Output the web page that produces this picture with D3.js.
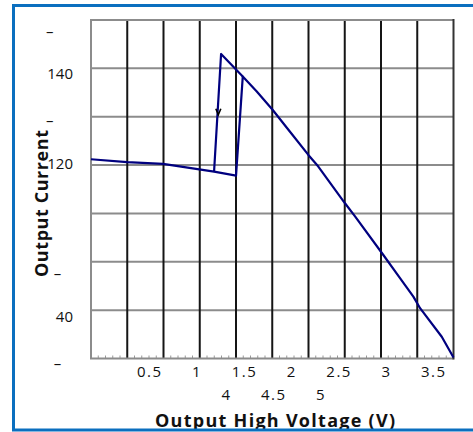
<!DOCTYPE html>
<meta charset="utf-8">
<script src="https://cdn.jsdelivr.net/npm/d3@7"></script>
<style>
body { margin: 0; background: #fff; }
text { font-family: "Open Sans", sans-serif; fill: #111; }
.tick-label { font-size: 15px; }
.axis-title { font-size: 18px; font-weight: bold; }
.grid-h { stroke: #8c8c8c; stroke-width: 2px; }
.grid-v { stroke: #151515; stroke-width: 2px; }
.sweep { fill: none; stroke: #00007f; stroke-width: 2.2px; stroke-linejoin: round; }
</style>
<body>
<script>

// sweep from low to high output voltage
var upVoltage = [-0.113, 0.268, 0.648, 1.187, 1.419, 1.490, 1.638, 1.807, 1.989, 2.183, 2.288, 2.570, 2.676, 2.975, 3.151, 3.292, 3.363, 3.592, 3.716];
var upCurrent = [121.2, 120.6, 120.25, 118.66, 117.83, 138.3, 135.2, 131.4, 126.9, 122.1, 119.7, 112.1, 109.4, 101.4, 96.6, 92.8, 90.4, 84.5, 80.2];

// sweep back down (hysteresis part)
var downVoltage = [1.490, 1.261, 1.187];
var downCurrent = [138.3, 142.98, 118.66];

// arrow on the falling edge
var arrowVoltage = 1.232;
var arrowCurrent = 130.4;

var xTicks = [0.5, 1, 1.5, 2, 2.5, 3, 3.5];
var xTicks2 = [4, 4.5, 5];
var yLabels = ["–\u00a0\u00a0\u00a0\u00a0\u00a0", "140", "–\u00a0\u00a0\u00a0\u00a0\u00a0", "120", "–\u00a0\u00a0\u00a0", "40", "–\u00a0\u00a0\u00a0"];
var yLabelValues = [147.5, 138.93, 129.1, 120.25, 97.5, 88.7, 79.0];

var width = 473, height = 432;
var pLeft = 91, pRight = 453.5, pTop = 20, pBottom = 358.5;

var svg = d3.select("body").append("svg")
    .attr("width", width)
    .attr("height", height);

var x = d3.scaleLinear().domain([-0.113, 3.716]).range([pLeft, pRight]);
var x2 = x.copy().domain(x.domain().map(function(d) { return d + 2.69; }));
var y = d3.scaleLinear().domain([80, 150]).range([pBottom, pTop]);

// grid: 10 columns, 7 rows
var gx = d3.scaleLinear().domain([0, 10]).range([pLeft, pRight]);
var gy = d3.scaleLinear().domain([0, 7]).range([pTop, pBottom]);

svg.append("g").selectAll("line")
    .data(d3.range(1, 7))
    .enter().append("line")
    .attr("class", "grid-h")
    .attr("x1", pLeft).attr("x2", pRight)
    .attr("y1", function(d) { return gy(d); })
    .attr("y2", function(d) { return gy(d); });

svg.append("g").selectAll("line")
    .data(d3.range(1, 10))
    .enter().append("line")
    .attr("class", "grid-v")
    .attr("x1", function(d) { return gx(d); })
    .attr("x2", function(d) { return gx(d); })
    .attr("y1", pTop).attr("y2", pBottom);

// minor ticks on the bottom edge
svg.append("g").selectAll("line")
    .data(d3.range(0, 10, 0.2).filter(function(d) { return Math.abs(d - Math.round(d)) > 0.01; }))
    .enter().append("line")
    .attr("x1", function(d) { return gx(d); })
    .attr("x2", function(d) { return gx(d); })
    .attr("y1", pBottom).attr("y2", pBottom - 3)
    .attr("stroke", "#999").attr("stroke-width", 1);

// frame of plot area
var fr = svg.append("g").attr("fill", "none").attr("stroke-width", 2);
fr.append("path").attr("stroke", "#8c8c8c")
    .attr("d", "M" + pRight + "," + pTop + "H" + pLeft + "V" + pBottom + "H" + pRight);
fr.append("line").attr("stroke", "#333")
    .attr("x1", pRight).attr("x2", pRight).attr("y1", pTop - 1).attr("y2", pBottom + 1);

var line = d3.line()
    .x(function(d) { return x(d[0]); })
    .y(function(d) { return y(d[1]); });

svg.append("path")
    .datum(d3.zip(upVoltage, upCurrent))
    .attr("class", "sweep")
    .attr("d", line);

svg.append("path")
    .datum(d3.zip(downVoltage, downCurrent))
    .attr("class", "sweep")
    .attr("d", line);

var ax = x(arrowVoltage), ay = y(arrowCurrent);
svg.append("path")
    .attr("d", "M" + (ax - 2.5) + "," + (ay - 6) + "L" + ax + "," + ay + "L" + (ax + 2.5) + "," + (ay - 6))
    .attr("fill", "none")
    .attr("stroke", "#000")
    .attr("stroke-width", 1.6);

// y labels
svg.append("g").selectAll("text")
    .data(yLabels)
    .enter().append("text")
    .attr("class", "tick-label")
    .attr("text-anchor", "end")
    .attr("x", 73)
    .attr("y", function(d, i) { return y(yLabelValues[i]); })
    .attr("dy", "0.35em")
    .text(function(d) { return d; });

// x labels, two rows
svg.append("g").selectAll("text")
    .data(xTicks)
    .enter().append("text")
    .attr("class", "tick-label")
    .attr("text-anchor", "middle")
    .attr("letter-spacing", "1.5px")
    .attr("x", function(d) { return x(d) + 0.75; })
    .attr("y", 376.5)
    .text(function(d) { return d; });

svg.append("g").selectAll("text")
    .data(xTicks2)
    .enter().append("text")
    .attr("class", "tick-label")
    .attr("text-anchor", "middle")
    .attr("letter-spacing", "1.5px")
    .attr("x", function(d) { return x2(d) + 0.75; })
    .attr("y", 400)
    .text(function(d) { return d; });

svg.append("text")
    .attr("class", "axis-title")
    .attr("x", 155)
    .attr("y", 426.5)
    .attr("textLength", 240)
    .attr("lengthAdjust", "spacing")
    .text("Output High Voltage (V)");

svg.append("text")
    .attr("class", "axis-title")
    .attr("transform", "translate(48,277) rotate(-90)")
    .attr("textLength", 147)
    .attr("lengthAdjust", "spacing")
    .text("Output Current");

// outer blue border
svg.append("rect")
    .attr("x", 13.5).attr("y", 5.5)
    .attr("width", 480).attr("height", 424.5)
    .attr("fill", "none")
    .attr("stroke", "#0b6fbf")
    .attr("stroke-width", 3);

</script>
</body>
